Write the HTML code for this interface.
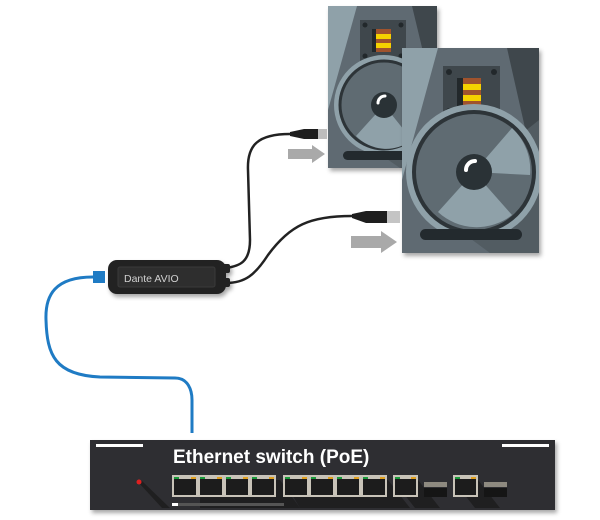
<!DOCTYPE html>
<html><head><meta charset="utf-8"><style>
html,body{margin:0;padding:0;background:#fff;width:600px;height:520px;overflow:hidden}
</style></head><body>
<svg width="600" height="520" viewBox="0 0 600 520" xmlns="http://www.w3.org/2000/svg">
<defs>
<filter id="sh" x="-10%" y="-10%" width="130%" height="130%"><feDropShadow dx="2" dy="3" stdDeviation="2" flood-opacity="0.35"/></filter>
<clipPath id="c1"><rect x="328" y="6" width="109" height="162"/></clipPath>
<clipPath id="c2"><rect x="402" y="48" width="137" height="205"/></clipPath>
</defs>

<!-- Speaker 1 -->
<g filter="url(#sh)">
<rect x="328" y="6" width="109" height="162" fill="#5f6b72"/>
</g>
<g clip-path="url(#c1)">
<polygon points="328,6 357,6 328,110" fill="#8fa1a9"/>
<polygon points="412,6 437,6 437,110" fill="#3f474c"/>
<polygon points="384,105 437,60 437,168 400,168 345,130" fill="#525c62"/>
<rect x="360" y="20" width="46" height="41" fill="#3f474c"/>
<circle cx="365" cy="25" r="2.5" fill="#22282b"/><circle cx="401" cy="25" r="2.5" fill="#22282b"/>
<circle cx="365" cy="56" r="2.5" fill="#22282b"/><circle cx="401" cy="56" r="2.5" fill="#22282b"/>
<rect x="372" y="29" width="4" height="23" fill="#22282b"/>
<rect x="376" y="29" width="15" height="23" fill="#a0532d"/>
<rect x="376" y="34" width="15" height="5" fill="#f5d200"/>
<rect x="376" y="43" width="15" height="5" fill="#f5d200"/>
<circle cx="384" cy="105" r="50" fill="#8fa1a9"/>
<circle cx="384" cy="105" r="44" fill="#5f6b72" stroke="#2d3438" stroke-width="3"/>
<path d="M384 105 L356 136 A42 42 0 0 0 412 140 Z" fill="#8fa1a9"/>
<circle cx="384" cy="105" r="13" fill="#2a3236"/>
<path d="M378 103 A7 7 0 0 1 385 96" stroke="#fff" stroke-width="3" fill="none" stroke-linecap="round"/>
<rect x="343" y="151" width="84" height="9" rx="4.5" fill="#232a2e"/>
</g>

<!-- Speaker 2 -->
<g filter="url(#sh)">
<rect x="402" y="48" width="137" height="205" fill="#5f6b72"/>
</g>
<g clip-path="url(#c2)">
<polygon points="402,48 438,48 402,180" fill="#8fa1a9"/>
<polygon points="507,48 539,48 539,190" fill="#3f474c"/>
<polygon points="474,172 539,120 539,253 490,253 425,205" fill="#525c62"/>
<rect x="443" y="66" width="57" height="51" fill="#3f474c"/>
<circle cx="449" cy="72" r="3" fill="#22282b"/><circle cx="494" cy="72" r="3" fill="#22282b"/>
<circle cx="449" cy="111" r="3" fill="#22282b"/><circle cx="494" cy="111" r="3" fill="#22282b"/>
<rect x="457" y="78" width="6" height="28" fill="#22282b"/>
<rect x="463" y="78" width="18" height="28" fill="#a0532d"/>
<rect x="463" y="84" width="18" height="6" fill="#f5d200"/>
<rect x="463" y="95" width="18" height="6" fill="#f5d200"/>
<circle cx="474" cy="172" r="68" fill="#8fa1a9"/>
<circle cx="474" cy="172" r="60" fill="#5f6b72" stroke="#2d3438" stroke-width="4"/>
<path d="M474 172 L438 212 A57 57 0 0 0 512 215 Z" fill="#8fa1a9"/>
<path d="M474 172 L512 128 A57 57 0 0 1 530 175 Z" fill="#8fa1a9"/>
<circle cx="474" cy="172" r="18" fill="#2a3236"/>
<path d="M466 170 A9 9 0 0 1 475 161" stroke="#fff" stroke-width="4" fill="none" stroke-linecap="round"/>
<rect x="420" y="229" width="102" height="11" rx="5.5" fill="#232a2e"/>
</g>

<!-- arrows -->
<polygon points="288,149 312,149 312,145 325,154 312,163 312,159 288,159" fill="#a9a9a9"/>
<polygon points="351,236 381,236 381,231 397,242 381,253 381,248 351,248" fill="#a9a9a9"/>

<!-- black cables -->
<path d="M226 268 C240 266 250 262 250 240 L248 170 C247 145 258 134 290 134" stroke="#222" stroke-width="2.5" fill="none"/>
<path d="M226 283 C245 283 255 275 268 255 C290 225 310 216 352 216" stroke="#222" stroke-width="2.5" fill="none"/>
<polygon points="290,132 304,129 318,129 318,139 304,139 290,136" fill="#1e1e1e"/>
<rect x="318" y="129" width="9" height="10" fill="#bdbdbd"/>
<polygon points="352,214 366,211 387,211 387,223 366,223 352,218" fill="#1e1e1e"/>
<rect x="387" y="211" width="13" height="12" fill="#c4c4c4"/>

<!-- blue cable -->
<path d="M93 277 C55 277 45 295 46 320 C47 355 55 375 100 377 L175 378 C188 378 192 390 192 400 L192 433" stroke="#1f7bc4" stroke-width="3" fill="none"/>
<rect x="93" y="271" width="12" height="12" fill="#1f7bc4"/>

<!-- Dante AVIO -->
<g filter="url(#sh)">
<rect x="220" y="264" width="10" height="9" rx="2" fill="#222"/>
<rect x="220" y="278" width="10" height="9" rx="2" fill="#222"/>
<rect x="108" y="260" width="118" height="34" rx="9" fill="#222"/>
</g>
<rect x="118" y="267" width="97" height="20" rx="2" fill="#2e2e2e" stroke="#3a3a3a"/>
<text x="124" y="282" font-family="Liberation Sans, sans-serif" font-size="10.5" fill="#d0d0d0">Dante AVIO</text>

<!-- Switch -->
<g filter="url(#sh)">
<rect x="90" y="440" width="465" height="70" fill="#2f2f31"/>
</g>
<rect x="96" y="444" width="47" height="3" fill="#fff"/>
<rect x="502" y="444" width="47" height="3" fill="#fff"/>
<text x="173" y="463" font-family="Liberation Sans, sans-serif" font-weight="bold" font-size="19" fill="#fff">Ethernet switch (PoE)</text>
<polygon points="139,483 142,481 170,508 162,508" fill="#1f1f20"/>
<circle cx="139" cy="482" r="2.5" fill="#e02020"/>
<g fill="#1f1f20">
<polygon points="200,480 280,480 300,508 200,508"/>
<polygon points="283,480 388,480 410,508 300,508"/>
<polygon points="393,480 418,480 440,508 415,508"/>
<polygon points="453,480 478,480 500,508 475,508"/>
</g>
<rect x="172" y="503" width="112" height="3" fill="#555"/>
<rect x="172" y="503" width="6" height="3" fill="#fff"/>
<rect x="172" y="475" width="104" height="22" fill="#c8c3b8"/>
<rect x="283" y="475" width="104" height="22" fill="#c8c3b8"/>
<rect x="393" y="475" width="25" height="22" fill="#c8c3b8"/>
<rect x="453" y="475" width="25" height="22" fill="#c8c3b8"/>
<g fill="#1c1c1c">
<rect x="174" y="479" width="22" height="16"/><rect x="200" y="479" width="22" height="16"/><rect x="226" y="479" width="22" height="16"/><rect x="252" y="479" width="22" height="16"/>
<rect x="285" y="479" width="22" height="16"/><rect x="311" y="479" width="22" height="16"/><rect x="337" y="479" width="22" height="16"/><rect x="363" y="479" width="22" height="16"/>
<rect x="395" y="479" width="21" height="16"/><rect x="455" y="479" width="21" height="16"/>
</g>
<g fill="#1a9a3a">
<rect x="174" y="477" width="5" height="2"/><rect x="200" y="477" width="5" height="2"/><rect x="226" y="477" width="5" height="2"/><rect x="252" y="477" width="5" height="2"/>
<rect x="285" y="477" width="5" height="2"/><rect x="311" y="477" width="5" height="2"/><rect x="337" y="477" width="5" height="2"/><rect x="363" y="477" width="5" height="2"/>
<rect x="395" y="477" width="5" height="2"/><rect x="455" y="477" width="5" height="2"/>
</g>
<g fill="#e0a020">
<rect x="191" y="477" width="5" height="2"/><rect x="217" y="477" width="5" height="2"/><rect x="243" y="477" width="5" height="2"/><rect x="269" y="477" width="5" height="2"/>
<rect x="302" y="477" width="5" height="2"/><rect x="328" y="477" width="5" height="2"/><rect x="354" y="477" width="5" height="2"/><rect x="380" y="477" width="5" height="2"/>
<rect x="411" y="477" width="5" height="2"/><rect x="471" y="477" width="5" height="2"/>
</g>
<rect x="424" y="482" width="23" height="5" fill="#8e8a80"/>
<rect x="424" y="488" width="23" height="9" fill="#151515"/>
<rect x="484" y="482" width="23" height="5" fill="#8e8a80"/>
<rect x="484" y="488" width="23" height="9" fill="#151515"/>
</svg>
</body></html>
